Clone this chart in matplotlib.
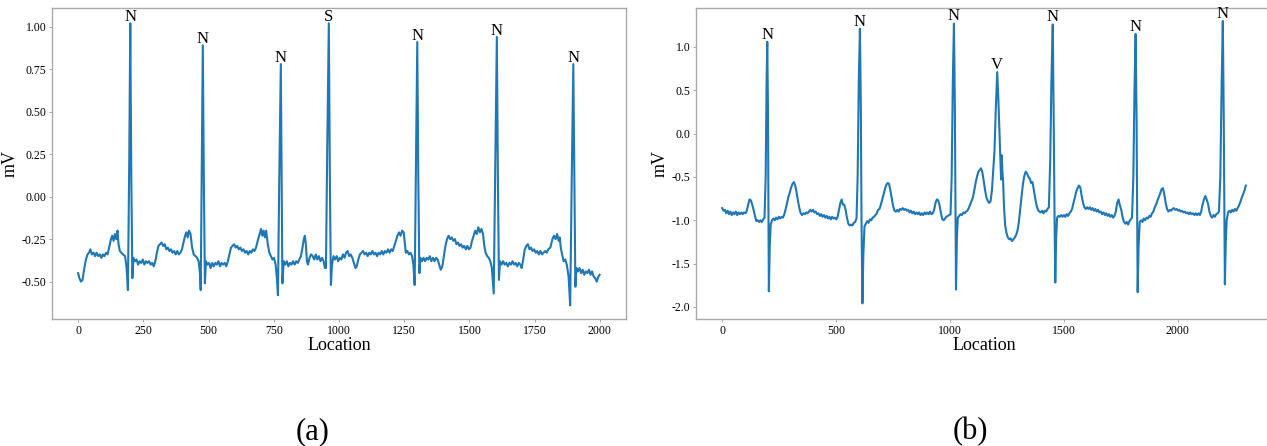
import numpy as np
import matplotlib
matplotlib.use("Agg")
import matplotlib.pyplot as plt

# -----------------------------
# DATA
# -----------------------------
# panel (a): sample location / amplitude in mV
loc_a = [0, 5, 11, 17, 24, 30, 36, 42, 47, 53, 59, 65, 71, 77, 83, 89, 95, 101, 107, 113,
         120, 126, 131, 136, 141, 146, 151, 155, 160, 166, 172, 180, 186, 191, 196, 200, 204, 208,
         212, 218, 224, 230, 236, 242, 248, 254, 260, 266, 272, 278, 284, 290, 296, 302, 308, 314,
         320, 326, 332, 338, 344, 350, 356, 362, 368, 374, 380, 386, 392, 398, 404, 410, 415, 420,
         425, 431, 437, 443, 450, 456, 462, 467, 470, 474, 478, 482, 486, 490, 496, 502, 508, 514,
         520, 526, 532, 538, 544, 550, 556, 562, 568, 574, 580, 586, 592, 598, 604, 610, 616, 622,
         628, 634, 640, 646, 652, 658, 664, 670, 676, 682, 690, 696, 701, 706, 711, 716, 721, 727,
         733, 739, 745, 751, 757, 762, 766, 771, 777, 780, 783, 788, 794, 800, 806, 812, 818, 824,
         830, 836, 842, 848, 854, 859, 864, 869, 873, 877, 881, 887, 893, 899, 905, 911, 917, 923,
         929, 935, 941, 946, 950, 955, 961, 965, 969, 973, 979, 985, 991, 997, 1003, 1009, 1015,
         1021, 1027, 1033, 1039, 1045, 1051, 1057, 1063, 1068, 1074, 1080, 1086, 1092, 1098, 1104,
         1110, 1116, 1122, 1128, 1134, 1140, 1146, 1152, 1158, 1164, 1170, 1176, 1182, 1188, 1194,
         1200, 1206, 1212, 1218, 1224, 1230, 1236, 1242, 1248, 1252, 1256, 1262, 1268, 1274, 1280,
         1285, 1290, 1295, 1300, 1304, 1308, 1312, 1318, 1324, 1330, 1336, 1342, 1348, 1354, 1360,
         1366, 1372, 1378, 1384, 1390, 1396, 1402, 1408, 1414, 1420, 1426, 1432, 1438, 1444, 1450,
         1456, 1462, 1468, 1474, 1480, 1486, 1492, 1498, 1504, 1510, 1516, 1522, 1528, 1534, 1540,
         1546, 1552, 1557, 1562, 1568, 1574, 1580, 1586, 1593, 1599, 1605, 1609, 1613, 1617, 1623,
         1629, 1635, 1641, 1647, 1653, 1659, 1665, 1671, 1677, 1683, 1689, 1695, 1700, 1706, 1712,
         1718, 1724, 1730, 1736, 1742, 1748, 1754, 1760, 1766, 1772, 1778, 1784, 1790, 1796, 1802,
         1810, 1818, 1824, 1830, 1836, 1842, 1846, 1850, 1855, 1861, 1867, 1873, 1880, 1886, 1892,
         1898, 1902, 1906, 1910, 1916, 1922, 1928, 1934, 1940, 1946, 1952, 1958, 1964, 1970, 1976,
         1982, 1988, 1994, 1999]
mv_a = [-0.45, -0.48, -0.50, -0.49, -0.42, -0.37, -0.34, -0.33, -0.31, -0.34, -0.33, -0.35, -0.33,
        -0.35, -0.34, -0.36, -0.34, -0.35, -0.33, -0.34, -0.29, -0.25, -0.23, -0.26, -0.22, -0.25,
        -0.20, -0.28, -0.32, -0.33, -0.34, -0.35, -0.42, -0.55, 0.20, 1.02, 0.10, -0.48, -0.36,
        -0.38, -0.37, -0.40, -0.38, -0.39, -0.37, -0.40, -0.38, -0.39, -0.38, -0.40, -0.39, -0.41,
        -0.38, -0.33, -0.29, -0.28, -0.27, -0.29, -0.28, -0.31, -0.30, -0.32, -0.31, -0.33, -0.32,
        -0.34, -0.32, -0.34, -0.33, -0.31, -0.27, -0.23, -0.21, -0.24, -0.20, -0.22, -0.30, -0.34,
        -0.35, -0.36, -0.38, -0.45, -0.55, 0.20, 0.89, 0.10, -0.51, -0.38, -0.40, -0.39, -0.42,
        -0.39, -0.41, -0.39, -0.40, -0.38, -0.41, -0.39, -0.40, -0.39, -0.41, -0.38, -0.34, -0.30,
        -0.29, -0.28, -0.30, -0.29, -0.31, -0.30, -0.32, -0.31, -0.33, -0.32, -0.34, -0.32, -0.33,
        -0.31, -0.32, -0.30, -0.25, -0.22, -0.19, -0.23, -0.20, -0.24, -0.20, -0.28, -0.33, -0.35,
        -0.37, -0.36, -0.40, -0.48, -0.58, 0.10, 0.78, 0.10, -0.51, -0.38, -0.40, -0.38, -0.41,
        -0.39, -0.40, -0.38, -0.40, -0.38, -0.39, -0.37, -0.35, -0.31, -0.26, -0.23, -0.28, -0.38,
        -0.40, -0.36, -0.34, -0.35, -0.37, -0.34, -0.37, -0.35, -0.38, -0.36, -0.38, -0.42, -0.42,
        0.30, 1.02, 0.10, -0.52, -0.40, -0.35, -0.37, -0.35, -0.38, -0.36, -0.37, -0.34, -0.36,
        -0.33, -0.32, -0.35, -0.34, -0.36, -0.39, -0.42, -0.41, -0.37, -0.34, -0.33, -0.32, -0.34,
        -0.33, -0.35, -0.33, -0.34, -0.32, -0.34, -0.33, -0.35, -0.33, -0.34, -0.32, -0.34, -0.32,
        -0.33, -0.31, -0.33, -0.31, -0.32, -0.29, -0.26, -0.23, -0.21, -0.23, -0.20, -0.21, -0.27,
        -0.33, -0.32, -0.34, -0.33, -0.35, -0.40, -0.52, 0.20, 0.91, 0.10, -0.45, -0.36, -0.38,
        -0.36, -0.38, -0.36, -0.37, -0.35, -0.38, -0.36, -0.38, -0.36, -0.37, -0.40, -0.43, -0.41,
        -0.35, -0.29, -0.25, -0.23, -0.25, -0.24, -0.26, -0.25, -0.28, -0.27, -0.29, -0.28, -0.30,
        -0.29, -0.31, -0.29, -0.31, -0.30, -0.26, -0.23, -0.20, -0.22, -0.18, -0.21, -0.19, -0.22,
        -0.29, -0.33, -0.35, -0.36, -0.38, -0.42, -0.57, 0.20, 0.94, 0.10, -0.49, -0.38, -0.40,
        -0.38, -0.40, -0.39, -0.41, -0.39, -0.40, -0.38, -0.40, -0.39, -0.41, -0.39, -0.40, -0.42,
        -0.37, -0.31, -0.29, -0.28, -0.31, -0.30, -0.32, -0.31, -0.33, -0.32, -0.34, -0.32, -0.34,
        -0.33, -0.32, -0.33, -0.31, -0.30, -0.25, -0.23, -0.25, -0.22, -0.26, -0.24, -0.30, -0.34,
        -0.38, -0.37, -0.40, -0.47, -0.64, 0.10, 0.78, 0.10, -0.53, -0.42, -0.44, -0.42, -0.45,
        -0.43, -0.46, -0.44, -0.45, -0.43, -0.46, -0.44, -0.47, -0.48, -0.50, -0.47, -0.46]
peaks_a = [200, 478, 777, 961, 1300, 1605, 1898]
labels_a = ["N", "N", "N", "S", "N", "N", "N"]

# panel (b)
loc_b = [0, 6, 12, 18, 24, 30, 36, 42, 48, 54, 60, 66, 72, 78, 84, 90, 96, 102, 108, 114, 120,
         126, 132, 138, 144, 150, 156, 162, 168, 174, 180, 186, 191, 195, 198, 201, 205, 209, 213,
         219, 225, 231, 237, 243, 249, 255, 261, 267, 273, 279, 285, 291, 297, 303, 309, 315, 321,
         327, 333, 339, 345, 351, 357, 363, 369, 375, 381, 387, 393, 399, 405, 411, 417, 423, 429,
         435, 441, 447, 453, 459, 465, 471, 477, 483, 489, 495, 501, 507, 513, 519, 525, 530, 536,
         542, 548, 554, 560, 566, 572, 578, 584, 590, 595, 600, 605, 609, 612, 616, 620, 625, 631,
         637, 643, 649, 655, 661, 667, 673, 679, 685, 691, 697, 703, 709, 715, 721, 727, 733, 739,
         745, 751, 757, 763, 769, 775, 781, 787, 793, 799, 805, 811, 817, 823, 829, 835, 841, 847,
         853, 859, 865, 871, 877, 883, 889, 895, 901, 907, 913, 919, 925, 931, 937, 943, 949, 955,
         961, 967, 973, 979, 985, 991, 997, 1003, 1008, 1013, 1018, 1022, 1025, 1027, 1031, 1035,
         1041, 1047, 1053, 1059, 1065, 1071, 1077, 1083, 1089, 1095, 1101, 1107, 1113, 1119, 1125,
         1131, 1137, 1143, 1149, 1155, 1161, 1167, 1173, 1179, 1185, 1190, 1196, 1202, 1208, 1213,
         1218, 1222, 1225, 1228, 1231, 1234, 1238, 1243, 1249, 1255, 1261, 1267, 1273, 1279, 1285,
         1291, 1297, 1303, 1309, 1315, 1321, 1327, 1333, 1339, 1345, 1351, 1357, 1363, 1369, 1375,
         1381, 1387, 1393, 1399, 1405, 1411, 1417, 1423, 1429, 1435, 1441, 1446, 1452, 1456, 1460,
         1463, 1467, 1471, 1477, 1483, 1489, 1495, 1501, 1507, 1513, 1519, 1525, 1531, 1537, 1543,
         1549, 1555, 1561, 1567, 1573, 1579, 1585, 1591, 1597, 1603, 1609, 1615, 1621, 1627, 1633,
         1639, 1645, 1651, 1657, 1663, 1669, 1675, 1681, 1687, 1693, 1699, 1705, 1711, 1717, 1723,
         1729, 1735, 1741, 1747, 1753, 1759, 1765, 1771, 1777, 1783, 1789, 1795, 1800, 1806, 1811,
         1816, 1820, 1823, 1825, 1829, 1834, 1840, 1846, 1852, 1858, 1864, 1870, 1876, 1882, 1888,
         1894, 1900, 1906, 1912, 1918, 1924, 1930, 1936, 1942, 1948, 1954, 1960, 1966, 1972, 1978,
         1984, 1990, 1996, 2002, 2008, 2014, 2020, 2026, 2032, 2038, 2044, 2050, 2056, 2062, 2068,
         2074, 2080, 2086, 2092, 2098, 2104, 2110, 2116, 2122, 2128, 2134, 2140, 2146, 2152, 2158,
         2164, 2170, 2176, 2182, 2188, 2194, 2199, 2203, 2206, 2208, 2212, 2216, 2222, 2228, 2234,
         2240, 2246, 2252, 2258, 2264, 2270, 2276, 2282, 2288, 2294, 2300]
mv_b = [-0.86, -0.89, -0.88, -0.92, -0.89, -0.93, -0.90, -0.94, -0.91, -0.93, -0.90, -0.94, -0.91,
        -0.93, -0.91, -0.93, -0.91, -0.92, -0.89, -0.82, -0.76, -0.77, -0.82, -0.88, -0.95, -1.01,
        -1.00, -1.02, -1.00, -1.02, -0.99, -0.97, -0.50, 0.60, 1.06, 0.30, -1.82, -1.30, -1.05,
        -1.00, -0.98, -1.00, -0.97, -0.99, -0.96, -0.98, -0.96, -0.97, -0.93, -0.87, -0.80, -0.73,
        -0.68, -0.62, -0.58, -0.56, -0.60, -0.68, -0.78, -0.86, -0.92, -0.94, -0.92, -0.93, -0.91,
        -0.92, -0.90, -0.88, -0.90, -0.88, -0.91, -0.90, -0.93, -0.92, -0.95, -0.93, -0.96, -0.94,
        -0.97, -0.95, -0.98, -0.96, -0.99, -0.96, -0.98, -0.97, -0.99, -0.96, -0.88, -0.80, -0.76,
        -0.82, -0.82, -0.88, -0.97, -1.04, -1.06, -1.05, -1.06, -1.03, -1.02, -0.98, -0.50, 0.60,
        1.21, 0.30, -1.00, -1.96, -1.40, -1.07, -1.04, -1.01, -1.03, -0.99, -1.00, -0.97, -0.96,
        -0.94, -0.92, -0.88, -0.87, -0.82, -0.76, -0.70, -0.64, -0.59, -0.57, -0.58, -0.66, -0.75,
        -0.84, -0.89, -0.90, -0.88, -0.90, -0.87, -0.88, -0.86, -0.88, -0.87, -0.89, -0.88, -0.91,
        -0.89, -0.92, -0.90, -0.93, -0.91, -0.93, -0.91, -0.94, -0.92, -0.94, -0.91, -0.93, -0.91,
        -0.93, -0.90, -0.93, -0.92, -0.88, -0.80, -0.76, -0.77, -0.83, -0.92, -0.99, -1.00, -0.98,
        -0.96, -0.95, -0.94, -0.93, -0.50, 0.60, 1.27, 0.30, -1.00, -1.80, -1.20, -0.97, -0.95,
        -0.93, -0.94, -0.91, -0.92, -0.90, -0.89, -0.86, -0.82, -0.78, -0.74, -0.66, -0.57, -0.50,
        -0.44, -0.42, -0.40, -0.45, -0.55, -0.66, -0.74, -0.78, -0.80, -0.78, -0.65, -0.45, -0.20,
        0.30, 0.71, 0.40, 0.00, -0.30, -0.53, -0.25, -0.45, -0.55, -0.85, -1.06, -1.15, -1.20,
        -1.22, -1.21, -1.24, -1.22, -1.20, -1.17, -1.12, -1.02, -0.87, -0.72, -0.58, -0.49, -0.44,
        -0.46, -0.50, -0.52, -0.57, -0.56, -0.65, -0.75, -0.83, -0.88, -0.90, -0.91, -0.89, -0.92,
        -0.89, -0.90, -0.87, -0.85, -0.30, 0.60, 1.26, 0.20, -1.00, -1.72, -1.20, -0.97, -0.95,
        -0.96, -0.94, -0.96, -0.94, -0.96, -0.93, -0.95, -0.92, -0.90, -0.87, -0.80, -0.74, -0.67,
        -0.63, -0.60, -0.62, -0.72, -0.80, -0.85, -0.87, -0.85, -0.87, -0.85, -0.88, -0.86, -0.89,
        -0.87, -0.90, -0.88, -0.91, -0.90, -0.93, -0.91, -0.94, -0.92, -0.95, -0.93, -0.96, -0.94,
        -0.97, -0.95, -0.90, -0.80, -0.76, -0.83, -0.88, -0.97, -1.02, -1.04, -1.02, -1.05, -1.01,
        -0.99, -0.97, -0.50, 0.50, 1.15, 0.20, -1.00, -1.83, -1.30, -1.02, -1.00, -1.02, -0.98,
        -1.00, -0.97, -0.98, -0.95, -0.96, -0.92, -0.90, -0.85, -0.82, -0.77, -0.73, -0.69, -0.64,
        -0.63, -0.70, -0.80, -0.87, -0.90, -0.88, -0.89, -0.87, -0.86, -0.88, -0.87, -0.89, -0.88,
        -0.90, -0.89, -0.91, -0.90, -0.92, -0.91, -0.93, -0.91, -0.93, -0.92, -0.94, -0.92, -0.94,
        -0.92, -0.94, -0.90, -0.82, -0.76, -0.72, -0.76, -0.81, -0.90, -0.95, -0.97, -0.94, -0.96,
        -0.93, -0.92, -0.90, -0.50, 0.60, 1.30, 0.20, -1.00, -1.74, -1.25, -1.00, -0.91, -0.89,
        -0.91, -0.88, -0.90, -0.87, -0.89, -0.86, -0.83, -0.79, -0.74, -0.70, -0.66, -0.60]
peaks_b = [198, 605, 1018, 1208, 1452, 1816, 2199]
labels_b = ["N", "N", "N", "V", "N", "N", "N"]

# -----------------------------
# STYLE
# -----------------------------
plt.rcParams["font.family"] = ["Liberation Serif", "DejaVu Serif"]
plt.rcParams["axes.unicode_minus"] = False

W, H = 1267, 446
fig = plt.figure(figsize=(W / 100, H / 100), dpi=100)

ax_a = fig.add_axes([52 / W, 1 - 319 / H, 574 / W, 311 / H])
ax_b = fig.add_axes([696 / W, 1 - 319 / H, 576 / W, 311 / H])


def draw_panel(ax, loc, mv, peaks, labels, yticks, yfmt):
    ax.plot(loc, mv, color="#1f77b4", linewidth=1.5)
    for p, lab in zip(peaks, labels):
        ax.text(p, mv[loc.index(p)] - 0.01, lab, ha="center", va="bottom", fontsize=12)
    ax.set_yticks(yticks)
    ax.set_yticklabels([yfmt.format(v) for v in yticks])
    ax.set_xlabel("Location", fontsize=13, labelpad=0)
    ax.set_ylabel("mV", fontsize=13, labelpad=2)
    ax.tick_params(labelsize=8.5, length=2, width=0.6, color="#999999", pad=2)
    for s in ax.spines.values():
        s.set_color("#aaaaaa")
        s.set_linewidth(1.0)


draw_panel(ax_a, loc_a, mv_a, peaks_a, labels_a,
           [-0.5, -0.25, 0.0, 0.25, 0.5, 0.75, 1.0], "{:.2f}")
ax_a.set_xticks([0, 250, 500, 750, 1000, 1250, 1500, 1750, 2000])
ax_a.set_xlim(-100, 2100)
ax_a.set_ylim(-0.72, 1.11)

draw_panel(ax_b, loc_b, mv_b, peaks_b, labels_b,
           [-2.0, -1.5, -1.0, -0.5, 0.0, 0.5, 1.0], "{:.1f}")
ax_b.set_xticks([0, 500, 1000, 1500, 2000])
ax_b.set_xlim(-115, 2415)
ax_b.set_ylim(-2.14, 1.45)

fig.text(313 / W, 1 - 432 / H, "(a)", ha="center", va="center", fontsize=22)
fig.text(970 / W, 1 - 432 / H, "(b)", ha="center", va="center", fontsize=22)

fig.savefig("out.png", dpi=100)
